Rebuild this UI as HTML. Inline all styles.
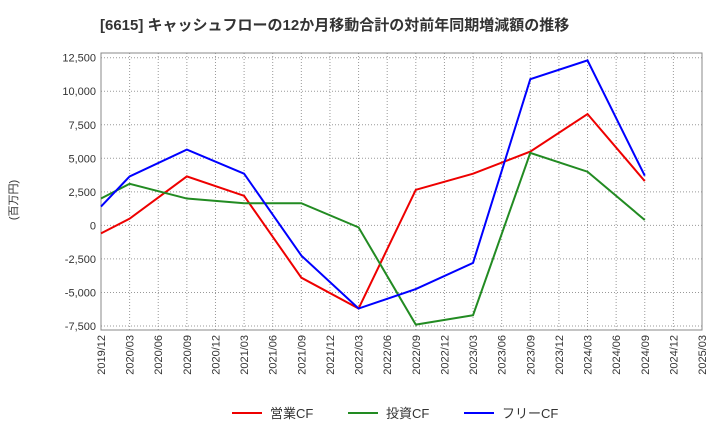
<!DOCTYPE html>
<html><head><meta charset="utf-8"><style>
body{margin:0;background:#fff;font-family:"Liberation Sans","Noto Sans CJK JP",sans-serif;}
svg text{font-family:"Liberation Sans","Noto Sans CJK JP",sans-serif;}
</style></head><body>
<svg width="720" height="440" xmlns="http://www.w3.org/2000/svg">
<text x="100" y="30" font-size="15" font-weight="bold" fill="#333">[6615]  キャッシュフローの12か月移動合計の対前年同期増減額の推移</text>
<text transform="translate(17,200) rotate(-90)" font-size="11" fill="#333" text-anchor="middle">(百万円)</text>
<g id="grid"></g><g id="axes"></g><g id="series"></g>
<g>
<line x1="232" y1="413" x2="262" y2="413" stroke="#e00" stroke-width="2"/><text x="270" y="418" font-size="13" fill="#333">営業CF</text>
<line x1="348" y1="413" x2="378" y2="413" stroke="#228b22" stroke-width="2"/><text x="386" y="418" font-size="13" fill="#333">投資CF</text>
<line x1="464" y1="413" x2="494" y2="413" stroke="#00f" stroke-width="2"/><text x="502" y="418" font-size="13" fill="#333">フリーCF</text>
</g>
</svg>
<script>
const categories=["2019/12","2020/03","2020/06","2020/09","2020/12","2021/03","2021/06","2021/09","2021/12","2022/03","2022/06","2022/09","2022/12","2023/03","2023/06","2023/09","2023/12","2024/03","2024/06","2024/09","2024/12","2025/03"];
const yTicks=[-7500,-5000,-2500,0,2500,5000,7500,10000,12500];
const operatingIdx=[0,1,3,5,7,9,11,13,15,17,19];
const operatingCF=[-600,500,3650,2200,-3900,-6200,2650,3850,5500,8300,3300];
const investingCF=[2000,3100,2000,1650,1650,-150,-7400,-6700,5400,4000,400];
const freeCF=[1400,3650,5650,3850,-2250,-6200,-4750,-2800,10900,12300,3700];
const L=101,R=702,T=53,B=330;
const yMin=-7800,yMax=12850;
function x(i){return L+(R-L)*i/(categories.length-1);}
function y(v){return B-(v-yMin)/(yMax-yMin)*(B-T);}
const NS="http://www.w3.org/2000/svg";
function mk(tag,attrs,parent){const e=document.createElementNS(NS,tag);for(const k in attrs)e.setAttribute(k,attrs[k]);document.getElementById(parent).appendChild(e);return e;}
categories.forEach((c,i)=>{
 const g=mk("line",{x1:x(i),x2:x(i),y1:T,y2:B,stroke:"#999","stroke-dasharray":"1,2","stroke-width":1},"grid");
 
 
 const t=mk("text",{transform:`translate(${x(i)+4},${B+5}) rotate(-90)`,"font-size":11,fill:"#333","text-anchor":"end"},"axes");
 t.textContent=c;
 
 
});
yTicks.forEach(v=>{
 const g=mk("line",{x1:L,x2:R,y1:y(v),y2:y(v),stroke:"#999","stroke-dasharray":"1,2","stroke-width":1},"grid");
 
 
 const t=mk("text",{x:L-5,y:y(v)+4,"font-size":11,fill:"#333","text-anchor":"end"},"axes");
 t.textContent=v.toLocaleString("en-US");
 
 
});
const fr=mk("rect",{x:L,y:T,width:R-L,height:B-T,fill:"none",stroke:"#888"},"axes");


function line(vals,color,name){
 const p=mk("polyline",{points:vals.map((v,k)=>x(operatingIdx[k])+","+y(v)).join(" "),fill:"none",stroke:color,"stroke-width":2},"series");
 
 
}
line(operatingCF,"#e00","operating-cf-line");
line(investingCF,"#228b22","investing-cf-line");
line(freeCF,"#00f","free-cf-line");
</script>
</body></html>
